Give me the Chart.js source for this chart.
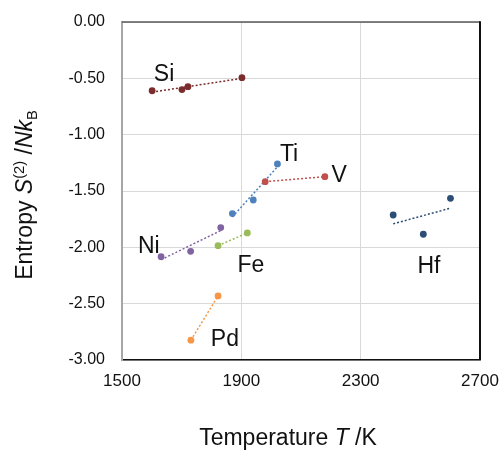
<!DOCTYPE html>
<html>
<head>
<meta charset="utf-8">
<script src="https://cdn.jsdelivr.net/npm/chart.js@4.4.0/dist/chart.umd.min.js"></script>
<style>
  html, body { margin: 0; padding: 0; background: #fff; }
</style>
</head>
<body>
<canvas id="chart" width="500" height="450"></canvas>
<script>
// === DATA (temperature T /K, entropy S(2)/NkB) ===
const siT = [1601, 1701, 1721, 1902];
const siS = [-0.61, -0.60, -0.574, -0.494];
const tiT = [1870, 1940, 2021];
const tiS = [-1.70, -1.58, -1.26];
const vT  = [1980, 2180];
const vS  = [-1.417, -1.373];
const niT = [1631, 1730, 1831];
const niS = [-2.083, -2.035, -1.825];
const feT = [1822, 1920];
const feS = [-1.985, -1.872];
const pdT = [1731, 1822];
const pdS = [-2.824, -2.431];
const hfT = [2409, 2510, 2601];
const hfS = [-1.713, -1.884, -1.565];

const xTicks = [1500, 1900, 2300, 2700];
const yTicks = [0, -0.5, -1, -1.5, -2, -2.5, -3];

// element name label anchors (data units)
const labelNames = ["Si", "Ti", "V", "Ni", "Fe", "Hf", "Pd"];
const labelT = [1641, 2060, 2228, 1590, 1932, 2529, 1845];
const labelS = [-0.47, -1.18, -1.367, -1.996, -2.165, -2.174, -2.82];
// =================

const FONT = '"Liberation Sans", Arial, sans-serif';

function pts(xs, ys) { return xs.map((x, i) => ({ x: x, y: ys[i] })); }

// least squares trendline across the data range (like the spreadsheet trendline)
function trend(xs, ys) {
  const n = xs.length;
  const mx = xs.reduce((a, b) => a + b, 0) / n;
  const my = ys.reduce((a, b) => a + b, 0) / n;
  let sxy = 0, sxx = 0;
  xs.forEach((x, i) => { sxy += (x - mx) * (ys[i] - my); sxx += (x - mx) * (x - mx); });
  const k = sxy / sxx;
  const x0 = Math.min(...xs), x1 = Math.max(...xs);
  return [{ x: x0, y: my + k * (x0 - mx) }, { x: x1, y: my + k * (x1 - mx) }];
}

const series = [
  { name: "Si", xs: siT, ys: siS, color: "#7B2C2C" },
  { name: "Ti", xs: tiT, ys: tiS, color: "#4F81BD" },
  { name: "V",  xs: vT,  ys: vS,  color: "#C0504D" },
  { name: "Ni", xs: niT, ys: niS, color: "#8064A2" },
  { name: "Fe", xs: feT, ys: feS, color: "#9BBB59" },
  { name: "Pd", xs: pdT, ys: pdS, color: "#F79646" },
  { name: "Hf", xs: hfT, ys: hfS, color: "#2C4D75" }
];

const datasets = [];
series.forEach(s => {
  datasets.push({
    type: "line", label: s.name + " trend", data: trend(s.xs, s.ys),
    borderColor: s.color, borderWidth: 1.5, borderDash: [2, 2],
    pointRadius: 0, fill: false, order: 2
  });
  datasets.push({
    type: "scatter", label: s.name, data: pts(s.xs, s.ys),
    backgroundColor: s.color, borderColor: s.color,
    pointRadius: 3.4, pointBorderWidth: 0, order: 1
  });
});

function drawRich(ctx, parts, cx, cy, size) {
  let w = 0;
  parts.forEach(p => {
    const sz = (p.sup || p.sub) ? size * 0.64 : size;
    p.font = (p.it ? "italic " : "") + sz + "px " + FONT;
    ctx.font = p.font;
    p.w = ctx.measureText(p.t).width;
    w += p.w;
  });
  let x = cx - w / 2;
  ctx.textAlign = "left";
  ctx.textBaseline = "alphabetic";
  parts.forEach(p => {
    const dy = p.sup ? -size * 0.36 : (p.sub ? size * 0.22 : 0);
    ctx.font = p.font;
    ctx.fillText(p.t, x, cy + size * 0.36 + dy);
    x += p.w;
  });
}

// keep the plot box fixed: drop the label overhang padding chart.js adds
function noPad(s) { s.paddingLeft = s.paddingRight = s.paddingTop = s.paddingBottom = 0; }

const decor = {
  id: "decor",
  afterDraw(chart) {
    const ctx = chart.ctx, a = chart.chartArea;
    const sx = chart.scales.x, sy = chart.scales.y;
    ctx.save();
    // top and right frame
    ctx.strokeStyle = "#595959"; ctx.lineWidth = 1.5;
    ctx.beginPath(); ctx.moveTo(a.left, a.top); ctx.lineTo(a.right, a.top); ctx.stroke();
    ctx.strokeStyle = "#111"; ctx.lineWidth = 2;
    ctx.beginPath(); ctx.moveTo(a.right, a.top - 0.75); ctx.lineTo(a.right, a.bottom); ctx.stroke();

    // element labels
    ctx.fillStyle = "#111";
    ctx.font = "23px " + FONT;
    ctx.textAlign = "center"; ctx.textBaseline = "middle";
    labelNames.forEach((n, i) => {
      ctx.fillText(n, sx.getPixelForValue(labelT[i]), sy.getPixelForValue(labelS[i]));
    });

    // axis titles
    drawRich(ctx, [{ t: "Temperature " }, { t: "T", it: true }, { t: " /K" }], 288, 437, 23);
    ctx.translate(23.5, 195);
    ctx.rotate(-Math.PI / 2);
    drawRich(ctx, [
      { t: "Entropy " }, { t: "S", it: true }, { t: "(2)", sup: true }, { t: " /" },
      { t: "Nk", it: true }, { t: "B", sub: true }
    ], 0, 0, 23);
    ctx.restore();
  }
};

new Chart(document.getElementById("chart"), {
  type: "scatter",
  data: { datasets: datasets },
  options: {
    responsive: false,
    animation: false,
    devicePixelRatio: 1,
    layout: { padding: { top: 22, right: 20, left: 0, bottom: 0 } },
    plugins: { legend: { display: false }, tooltip: { enabled: false } },
    scales: {
      x: {
        type: "linear", min: 1500, max: 2700,
        afterBuildTicks: s => { s.ticks = xTicks.map(v => ({ value: v })); },
        afterFit: s => { s.height = 90; noPad(s); },
        grid: { color: "#D9D9D9", lineWidth: 1, drawTicks: false },
        border: { color: "#111", width: 1.5 },
        ticks: { padding: 11, color: "#111", font: { family: FONT, size: 17 },
                 callback: v => String(v) }
      },
      y: {
        type: "linear", min: -3, max: 0,
        afterBuildTicks: s => { s.ticks = yTicks.map(v => ({ value: v })); },
        afterFit: s => { s.width = 122; noPad(s); },
        grid: { color: "#D9D9D9", lineWidth: 1, drawTicks: false },
        border: { color: "#A6A6A6", width: 2 },
        ticks: { padding: 17, color: "#111", font: { family: FONT, size: 16 },
                 callback: v => v.toFixed(2) }
      }
    }
  },
  plugins: [decor]
});
</script>
</body>
</html>
